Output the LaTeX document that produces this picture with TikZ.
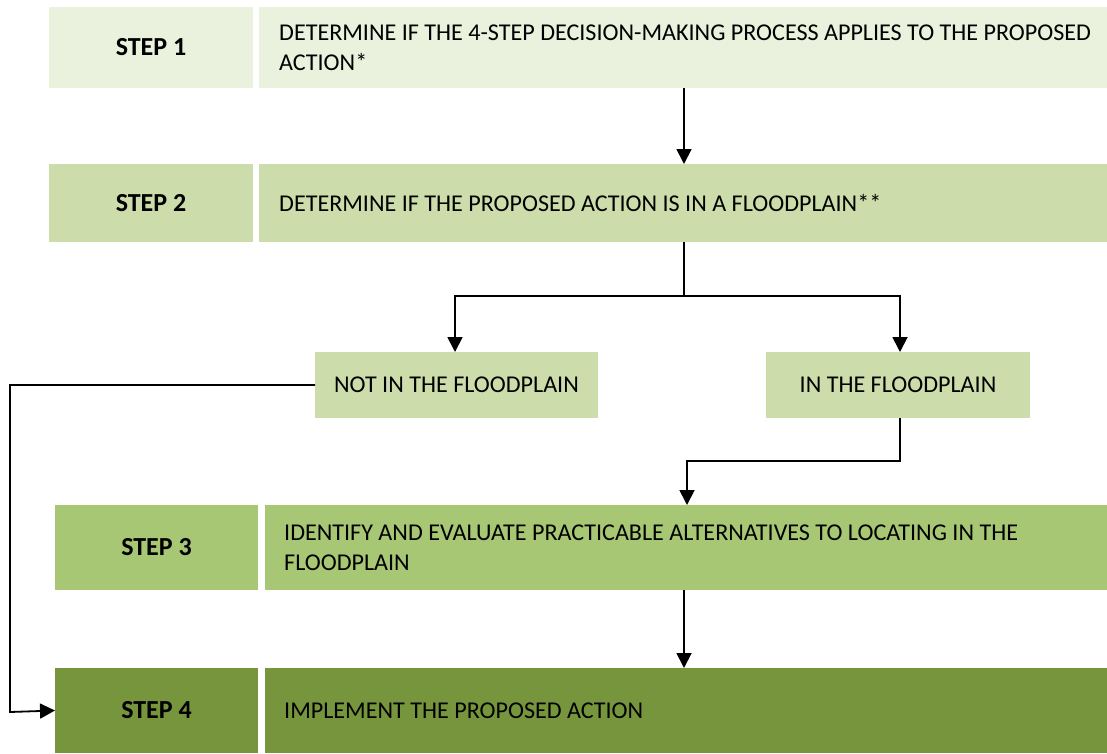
\documentclass[tikz,border=0pt]{standalone}
\usepackage{fontspec}
\setmainfont{Carlito}
\usetikzlibrary{arrows.meta}
\definecolor{cA}{HTML}{EAF1DD}
\definecolor{cB}{HTML}{CDDCAB}
\definecolor{cC}{HTML}{A8C774}
\definecolor{cD}{HTML}{77953D}
\tikzset{
  box/.style={inner sep=0pt, outer sep=0pt, anchor=north west},
  lbl/.style={font=\fontsize{26}{30}\selectfont\bfseries},
  txt/.style={font=\fontsize{24.1}{30}\selectfont, align=left, anchor=west, inner sep=0pt},
  brtxt/.style={font=\fontsize{24.1}{28}\selectfont},
  conn/.style={line width=1.8pt, -{Triangle[length=15pt,width=15pt]}},
  plain/.style={line width=1.8pt}
}
\begin{document}
\begin{tikzpicture}[x=1pt,y=-1pt]
\useasboundingbox (0,0) rectangle (1107,753);
% Step 1
\node[box, fill=cA, minimum width=204pt, minimum height=81pt] (s1l) at (49,7) {};
\node[box, fill=cA, minimum width=848pt, minimum height=81pt] (s1t) at (259,7) {};
\node[lbl] at (s1l.center) {STEP 1};
\node[txt] at ([xshift=20pt]s1t.west) {DETERMINE IF THE 4-STEP DECISION-MAKING PROCESS APPLIES TO THE PROPOSED\\ACTION*};
% Step 2
\node[box, fill=cB, minimum width=204pt, minimum height=78pt] (s2l) at (49,164) {};
\node[box, fill=cB, minimum width=848pt, minimum height=78pt] (s2t) at (259,164) {};
\node[lbl] at (s2l.center) {STEP 2};
\node[txt] at ([xshift=20pt]s2t.west) {DETERMINE IF THE PROPOSED ACTION IS IN A FLOODPLAIN**};
% Branch boxes
\node[box, fill=cB, minimum width=283pt, minimum height=66pt] (nf) at (315,352) {};
\node[brtxt] at (nf.center) {NOT IN THE FLOODPLAIN};
\node[box, fill=cB, minimum width=264pt, minimum height=66pt] (inf) at (766,352) {};
\node[brtxt] at (inf.center) {IN THE FLOODPLAIN};
% Step 3
\node[box, fill=cC, minimum width=203pt, minimum height=85pt] (s3l) at (55,505) {};
\node[box, fill=cC, minimum width=842pt, minimum height=85pt] (s3t) at (265,505) {};
\node[lbl] at (s3l.center) {STEP 3};
\node[txt] at ([xshift=19pt]s3t.west) {IDENTIFY AND EVALUATE PRACTICABLE ALTERNATIVES TO LOCATING IN THE\\FLOODPLAIN};
% Step 4
\node[box, fill=cD, minimum width=203pt, minimum height=85pt] (s4l) at (55,668) {};
\node[box, fill=cD, minimum width=842pt, minimum height=85pt] (s4t) at (265,668) {};
\node[lbl] at (s4l.center) {STEP 4};
\node[txt] at ([xshift=19pt]s4t.west) {IMPLEMENT THE PROPOSED ACTION};
% connectors
\coordinate (j) at (684,296);
\draw[conn] (684,88) -- (684,164);
\draw[plain] (684,242) -- (j);
\draw[conn] (j) -- (455,296) -- (nf.north -| 455,0);
\draw[conn] (j) -- (900,296) -- (inf.north -| 900,0);
\draw[conn] (nf.west) -- (10,385) -- (10,712) -- (s4l.west);
\draw[conn] (inf.south -| 900,0) -- (900,461) -- (687,461) -- (s3t.north -| 687,0);
\draw[conn] (684,590) -- (684,668);
\end{tikzpicture}
\end{document}
